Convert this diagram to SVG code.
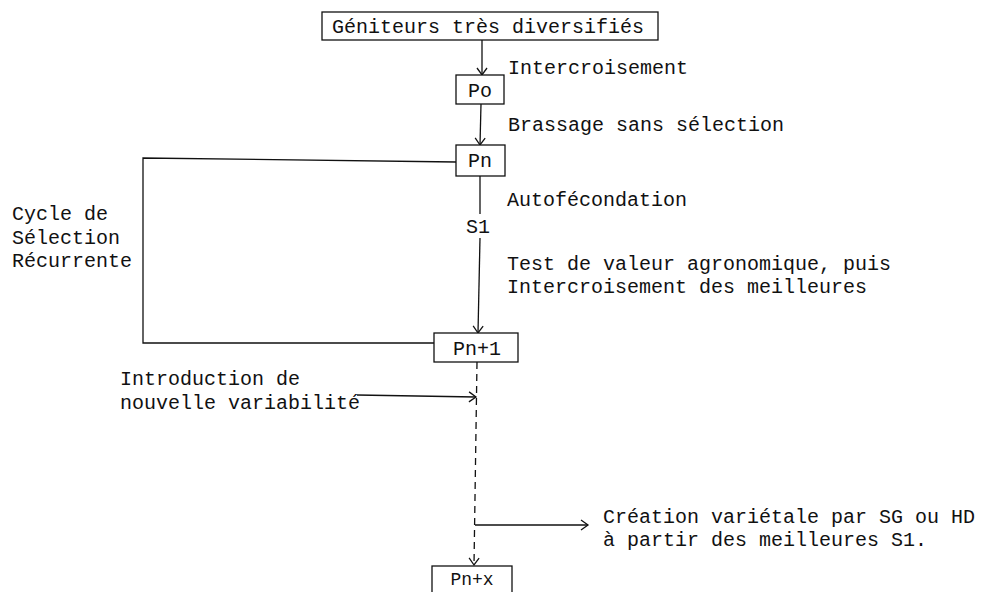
<svg xmlns="http://www.w3.org/2000/svg" width="986" height="592" viewBox="0 0 986 592">
<style>
text{font-family:"Liberation Mono","DejaVu Sans Mono",monospace;font-size:20px;fill:#111}
.c{text-anchor:middle}
.box{fill:#fff;stroke:#111;stroke-width:1.3}
.ln{fill:none;stroke:#111;stroke-width:1.3}
.dash{stroke-dasharray:7 5}
</style>
<defs>
<marker id="ah" markerWidth="12" markerHeight="12" refX="10" refY="6" orient="auto" markerUnits="userSpaceOnUse">
<path d="M3,1 L10,6 L3,11" fill="none" stroke="#111" stroke-width="1.3"/>
</marker>
</defs>
<g id="connectors">
<line class="ln" x1="482" y1="40" x2="482" y2="75" marker-end="url(#ah)"/>
<line class="ln" x1="481" y1="104" x2="480" y2="145" marker-end="url(#ah)"/>
<polyline class="ln" points="456,162 143,158 143,343 434,343"/>
<line class="ln" x1="480" y1="176" x2="480" y2="214"/>
<line class="ln" x1="480" y1="238" x2="478" y2="333" marker-end="url(#ah)"/>
<line class="ln" x1="357" y1="395" x2="476" y2="397" marker-end="url(#ah)"/>
<line class="ln dash" x1="477" y1="362" x2="474" y2="565" marker-end="url(#ah)"/>
<line class="ln" x1="475" y1="525" x2="588" y2="525" marker-end="url(#ah)"/>
</g>
<g id="n-geniteurs"><rect class="box" x="322" y="12" width="336" height="28"/><text x="332" y="33">Géniteurs très diversifiés</text></g>
<g id="n-po"><rect class="box" x="456" y="75" width="48" height="29"/><text class="c" x="480" y="97">Po</text></g>
<g id="n-pn"><rect class="box" x="456" y="145" width="49" height="31"/><text class="c" x="480" y="167">Pn</text></g>
<g id="n-pn1"><rect class="box" x="434" y="333" width="84" height="29"/><text class="c" x="477" y="355">Pn+1</text></g>
<g id="n-pnx"><rect class="box" x="432" y="566" width="80" height="40"/><text class="c" x="472" y="585" style="font-size:18px">Pn+x</text></g>
<g id="labels">
<text x="508" y="74">Intercroisement</text>
<text x="508" y="131">Brassage sans sélection</text>
<text x="507" y="206">Autofécondation</text>
<text class="c" x="478" y="233">S1</text>
<text x="507" y="270">Test de valeur agronomique, puis</text>
<text x="507" y="293">Intercroisement des meilleures</text>
<text x="12" y="220">Cycle de</text>
<text x="12" y="244">Sélection</text>
<text x="12" y="267">Récurrente</text>
<text x="120" y="385">Introduction de</text>
<text x="120" y="409">nouvelle variabilité</text>
<text x="603" y="523">Création variétale par SG ou HD</text>
<text x="603" y="546">à partir des meilleures S1.</text>
</g>
</svg>
